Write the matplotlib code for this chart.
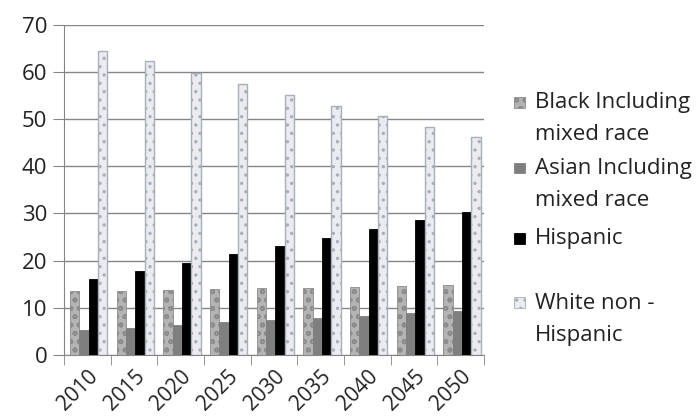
import numpy as np
import matplotlib
matplotlib.use('Agg')
import matplotlib.pyplot as plt
from matplotlib.patches import Rectangle

# Data (percent of population)
years = ['2010', '2015', '2020', '2025', '2030', '2035', '2040', '2045', '2050']
black = [13.5, 13.6, 13.8, 14.0, 14.1, 14.2, 14.4, 14.6, 14.9]
asian = [5.3, 5.8, 6.4, 6.9, 7.4, 7.9, 8.3, 8.8, 9.3]
hispanic = [16.0, 17.7, 19.4, 21.3, 23.0, 24.7, 26.6, 28.5, 30.3]
white = [64.5, 62.3, 59.8, 57.5, 55.2, 52.8, 50.6, 48.3, 46.2]

labels = ['Black Including\nmixed race', 'Asian Including\nmixed race',
          'Hispanic', 'White non -\nHispanic']

plt.rcParams['font.family'] = ['Open Sans', 'DejaVu Sans']
plt.rcParams['hatch.linewidth'] = 1.2

fig = plt.figure(figsize=(7, 4.2), dpi=100)
ax = fig.add_axes([0.0914, 0.155, 0.600, 0.786])

x = np.arange(len(years))
w = 0.2
styles = [
    dict(facecolor='#b4b4b4', edgecolor='#8c8c8c', hatch='oo', linewidth=0.6),
    dict(facecolor='#7f7f7f', edgecolor='#7f7f7f', linewidth=0.6),
    dict(facecolor='#000000', edgecolor='#000000', linewidth=0.6),
    dict(facecolor='#ececf0', edgecolor='#a8aebb', hatch='..', linewidth=1.0),
]
series = [black, asian, hispanic, white]
for i, (vals, st) in enumerate(zip(series, styles)):
    ax.bar(x + (i - 1.5) * w + 0.03, vals, width=w, zorder=3, **st)

ax.set_xlim(-0.5, len(years) - 0.5)
ax.set_ylim(0, 70)
ax.set_yticks(range(0, 71, 10))
ax.yaxis.grid(True, color='#858585', linewidth=1.0, zorder=0)
ax.set_axisbelow(True)

for s in ['top', 'right']:
    ax.spines[s].set_visible(False)
ax.spines['left'].set_color('#858585')
ax.spines['bottom'].set_color('#858585')

ax.set_xticks(x)
ax.set_xticklabels(years, rotation=45, ha='right', rotation_mode='anchor',
                   fontsize=15, color='#222222')
ax.set_xticks(np.arange(-0.5, len(years), 1), minor=True)
ax.tick_params(axis='x', which='major', length=0, pad=8)
ax.tick_params(axis='x', which='minor', length=7, color='#858585')
ax.tick_params(axis='y', length=8, color='#858585', labelsize=16,
               labelcolor='#222222', pad=4)

# legend drawn by hand so each marker sits on the first text line
ly = [0.757, 0.600, 0.433, 0.279]
for yy, lab, st in zip(ly, labels, styles):
    fig.patches.append(Rectangle((0.734, yy - 0.013), 0.016, 0.026,
                                 transform=fig.transFigure, figure=fig,
                                 facecolor=st['facecolor'],
                                 edgecolor=st['edgecolor'],
                                 hatch=st.get('hatch'), linewidth=0.6))
    fig.text(0.764, yy + 0.024, lab, fontsize=16, color='#222222', va='top',
             linespacing=1.7)

fig.savefig('out.png', dpi=100)
